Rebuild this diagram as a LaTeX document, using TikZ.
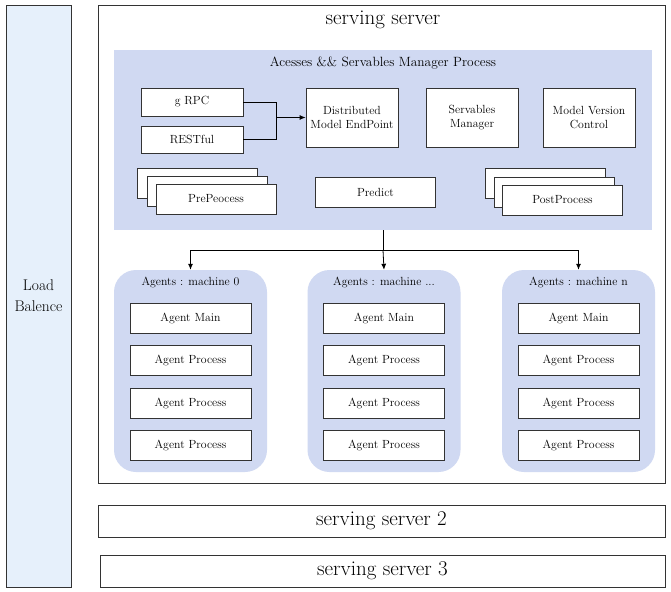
\documentclass[tikz,border=0pt]{standalone}
\usetikzlibrary{arrows.meta}
\definecolor{mgrfill}{HTML}{D0D9F2}
\definecolor{lbfill}{HTML}{E6F0FB}
\definecolor{edge}{HTML}{333333}
\newcommand{\threedots}{...}
\begin{document}
\begin{tikzpicture}[x=1pt,y=-1pt,
  frame/.style={draw=edge,line width=0.8pt,inner sep=0pt},
  wbox/.style={frame,fill=white,font=\fontsize{11.8}{14}\selectfont,align=center},
  agbox/.style={wbox,minimum width=121pt,minimum height=30pt},
  group/.style={fill=mgrfill,draw=none,rounded corners=22pt,minimum width=153pt,minimum height=202pt,inner sep=0pt},
  conn/.style={line width=0.8pt,draw=black},
  arr/.style={conn,-{Latex[length=6pt,width=5pt]}}]
\useasboundingbox (0,0) rectangle (671,591);
% load balance
\node[frame,fill=lbfill,minimum width=65pt,minimum height=582pt,align=center,font=\fontsize{15.5}{21}\selectfont] (lb) at (38.5,296) {Load\\Balence};
% servers
\node[frame,fill=white,minimum width=567pt,minimum height=478pt] (ss) at (381.5,244) {};
\node[font=\fontsize{21}{24}\selectfont] (sst) at (383,20) {serving server};
\node[frame,fill=white,minimum width=567pt,minimum height=32pt,font=\fontsize{21}{24}\selectfont] (ss2) at (381.5,521) {serving server 2};
\node[frame,fill=white,minimum width=565pt,minimum height=32pt,font=\fontsize{21}{24}\selectfont] (ss3) at (382.5,571) {serving server 3};
% manager
\node[fill=mgrfill,minimum width=538pt,minimum height=180pt,inner sep=0pt] (mgr) at (383,140) {};
\node[font=\fontsize{13.4}{15}\selectfont] (mgrt) at (383,63) {Acesses \&\& Servables Manager Process};
\node[wbox,minimum width=102pt,minimum height=28pt] (grpc) at (192,102) {g RPC};
\node[wbox,minimum width=102pt,minimum height=27pt] (rest) at (192,139.5) {RESTful};
\node[wbox,minimum width=92pt,minimum height=59pt] (dme) at (352,117.5) {Distributed\\Model EndPoint};
\node[wbox,minimum width=92pt,minimum height=59pt] (sm) at (472,117.5) {Servables\\Manager};
\node[wbox,minimum width=92pt,minimum height=59pt] (mvc) at (589,117.5) {Model Version\\Control};
\node[wbox,minimum width=120pt,minimum height=30pt] (pre1) at (197,183) {};
\node[wbox,minimum width=120pt,minimum height=30pt] (pre2) at (207,191.5) {};
\node[wbox,minimum width=120pt,minimum height=30pt] (pre3) at (216,199) {PrePeocess};
\node[wbox,minimum width=120pt,minimum height=30pt] (pred) at (375.5,192) {Predict};
\node[wbox,minimum width=120pt,minimum height=30pt] (post1) at (545,183) {};
\node[wbox,minimum width=120pt,minimum height=30pt] (post2) at (554.5,192) {};
\node[wbox,minimum width=120pt,minimum height=30pt] (post3) at (562.5,200) {PostProcess};
\coordinate (j) at (276,117.5);
\draw[conn] (grpc.east) -| (j);
\draw[conn] (rest.east) -| (j);
\draw[arr] (j) -- (dme.west);
% agents
\foreach \n/\cx/\t in {0/190.5/0, m/384/\threedots, n/578.5/n}{
  \node[group] (ag\n) at (\cx,371) {};
  \node[font=\fontsize{11.8}{14}\selectfont] (ag\n t) at (\cx,282) {Agents : machine \t};
  \node[agbox] (ag\n main) at (\cx,318) {Agent Main};
  \node[agbox] (ag\n p1) at (\cx,360) {Agent Process};
  \node[agbox] (ag\n p2) at (\cx,403) {Agent Process};
  \node[agbox] (ag\n p3) at (\cx,445) {Agent Process};
}
\coordinate (split) at (383,250);
\draw[conn] (mgr.south) -- (split);
\draw[arr] (split) -| (ag0.north);
\draw[arr] (split) -- (agm.north);
\draw[arr] (split) -| (agn.north);
\end{tikzpicture}
\end{document}
